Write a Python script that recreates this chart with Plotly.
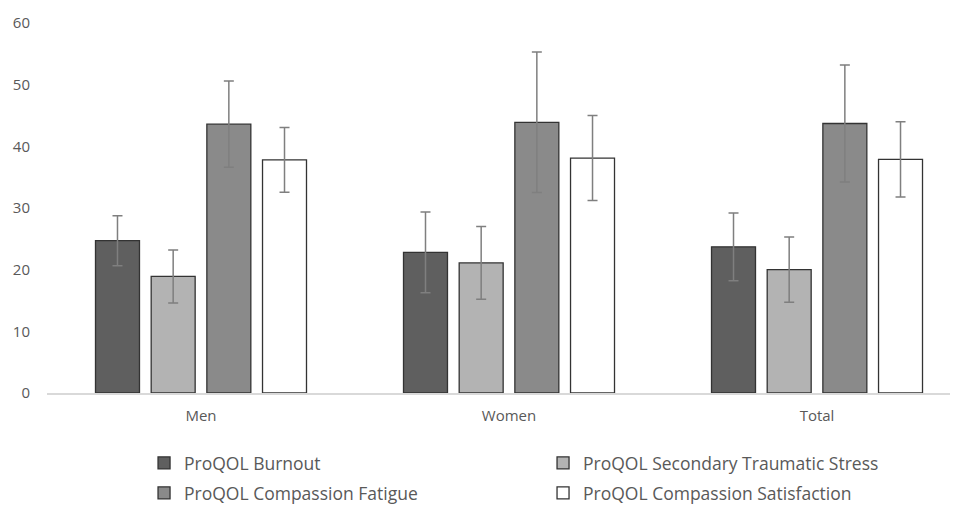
import plotly.graph_objects as go

categories = ["Men", "Women", "Total"]
series_names = [
    "ProQOL Burnout",
    "ProQOL Secondary Traumatic Stress",
    "ProQOL Compassion Fatigue",
    "ProQOL Compassion Satisfaction",
]
burnout = [24.7, 22.8, 23.7]
burnout_err = [4.05, 6.55, 5.5]
sts = [18.9, 21.1, 20.0]
sts_err = [4.3, 5.9, 5.3]
cf = [43.6, 43.9, 43.7]
cf_err = [7.0, 11.4, 9.5]
cs = [37.8, 38.1, 37.9]
cs_err = [5.25, 6.9, 6.1]

values = [burnout, sts, cf, cs]
errors = [burnout_err, sts_err, cf_err, cs_err]
colors = ["#5f5f5f", "#b3b3b3", "#8a8a8a", "#ffffff"]
legend_ids = ["legend", "legend", "legend2", "legend2"]

fig = go.Figure()
for name, v, e, c, lg in zip(series_names, values, errors, colors, legend_ids):
    fig.add_trace(go.Bar(
        x=categories, y=v, name=name, legend=lg,
        marker=dict(color=c, line=dict(color="#333333", width=1.3)),
        error_y=dict(type="data", array=e, visible=True,
                     color="#7f7f7f", thickness=1.5, width=5),
    ))

leg_common = dict(
    orientation="h", xref="container", yref="container",
    x=0.1432, xanchor="left", yanchor="middle",
    entrywidth=354, entrywidthmode="pixels",
    font=dict(family="Open Sans, sans-serif", size=17.5, color="#595959"),
    itemwidth=30, traceorder="normal", bgcolor="rgba(0,0,0,0)",
)

fig.update_layout(
    width=950, height=498,
    margin=dict(l=39, r=3, t=15, b=113),
    paper_bgcolor="white", plot_bgcolor="white",
    barmode="group", bargap=0.277, bargroupgap=0.21,
    font=dict(family="Open Sans, sans-serif", size=15, color="#595959"),
    showlegend=True,
    legend=dict(y=0.0863, **leg_common),
    legend2=dict(y=0.0261, **leg_common),
    xaxis=dict(
        range=[-0.5, 2.448], showline=True, linecolor="#d9d9d9", linewidth=1.5,
        ticks="", showgrid=False, zeroline=False, ticklabelstandoff=8,
    ),
    yaxis=dict(
        range=[0, 60], dtick=10, showline=False, showgrid=False, zeroline=False,
        ticks="", ticklabelstandoff=16,
    ),
)

fig.write_html("out.html")
